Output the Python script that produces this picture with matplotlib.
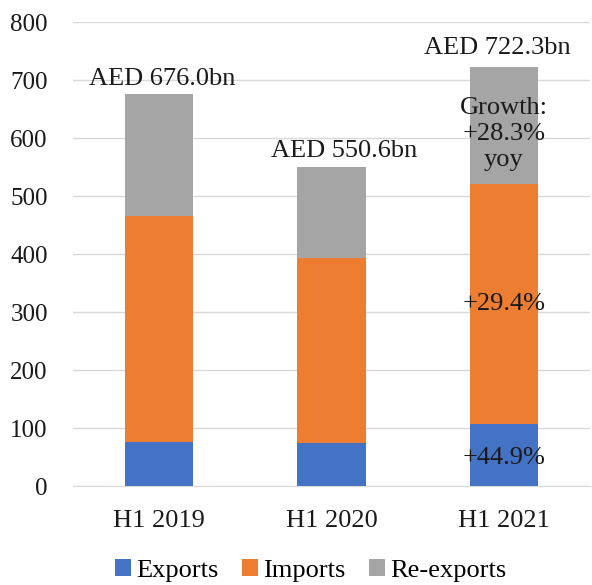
import matplotlib.pyplot as plt
import numpy as np

plt.rcParams['font.family'] = ['Liberation Serif', 'DejaVu Serif']

periods = ["H1 2019", "H1 2020", "H1 2021"]
totals = [676.0, 550.6, 722.3]
exports = [75.3, 74.5, 108.0]
imports = [390.7, 319.0, 412.8]
reexports = [t - e - i for t, e, i in zip(totals, exports, imports)]
total_labels = ["AED 676.0bn", "AED 550.6bn", "AED 722.3bn"]
growth_total = "Growth:\n+28.3%\nyoy"
growth_imports = "+29.4%"
growth_exports = "+44.9%"

c_exp, c_imp, c_rex = "#4472C4", "#ED7D31", "#A5A5A5"
ink = "#1a1a1a"

fig = plt.figure(figsize=(5.92, 5.85), dpi=100)
ax = fig.add_axes([0.123, 0.169, 0.874, 0.793])

x = np.arange(len(periods))
w = 0.395
b1 = ax.bar(x, exports, w, color=c_exp, label="Exports", zorder=2)
b2 = ax.bar(x, imports, w, bottom=exports, color=c_imp, label="Imports", zorder=2)
base = [e + i for e, i in zip(exports, imports)]
b3 = ax.bar(x, reexports, w, bottom=base, color=c_rex, label="Re-exports", zorder=2)

fs = 19
offsets = [0.02, 0.075, -0.04]
rise = [15, 16, 19]
for xi, t, lab, dx, dy in zip(x, totals, total_labels, offsets, rise):
    ax.annotate(lab, (xi + dx, t), xytext=(0, dy), textcoords="offset pixels",
                ha="center", va="center", fontsize=fs, color=ink)

# growth annotations on the latest period
ax.text(x[2], base[2] + reexports[2] / 2 - 14, growth_total, ha="center", va="center",
        fontsize=fs, color=ink, linespacing=1.22, zorder=3)
ax.text(x[2], exports[2] + imports[2] * 0.5, growth_imports, ha="center", va="center",
        fontsize=fs, color=ink, zorder=3)
ax.text(x[2], exports[2] * 0.45, growth_exports, ha="center", va="center",
        fontsize=fs, color=ink, zorder=3)

ax.set_ylim(0, 800)
ax.set_xlim(-0.5, 2.5)
ax.set_yticks(range(0, 801, 100))
ax.set_xticks(x)
ax.set_xticklabels(periods)
ax.tick_params(axis="both", length=0, labelsize=fs, colors=ink)
ax.tick_params(axis="y", labelsize=18, pad=18)
ax.tick_params(axis="x", pad=17)
ax.grid(axis="y", color="#D9D9D9", linewidth=1.0, zorder=0)
for s in ["top", "right", "left"]:
    ax.spines[s].set_visible(False)
ax.spines["bottom"].set_color("#D9D9D9")

fig.legend(handles=[b1, b2, b3], loc="lower center", bbox_to_anchor=(0.525, -0.035),
           ncol=3, frameon=False, fontsize=fs, handlelength=0.6, handleheight=0.6,
           handletextpad=0.2, columnspacing=0.9)

fig.savefig("out.png", dpi=100)
